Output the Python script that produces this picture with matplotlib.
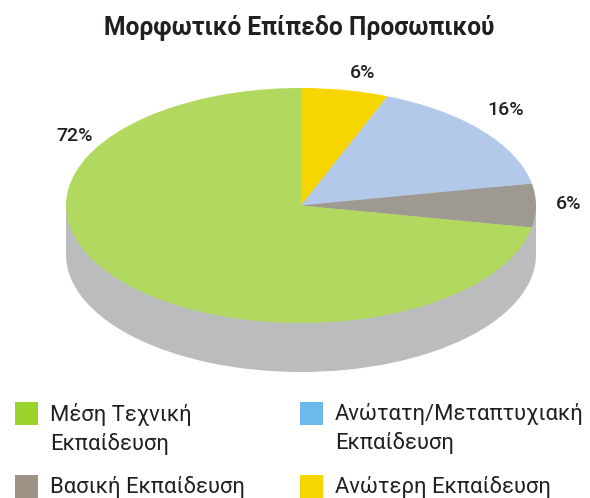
# -*- coding: utf-8 -*-
import matplotlib
matplotlib.use("Agg")
import matplotlib.pyplot as plt
from matplotlib.patches import Rectangle

plt.rcParams['font.family'] = ['Roboto', 'DejaVu Sans']

# data, clockwise from the top
values = [6, 16, 6, 72]
pie_colors = ['#F6D500', '#B3C9E9', '#9E9A92', '#B2D95F']
pie_labels = ['6%', '16%', '6%', '72%']
label_pos = [(363, 73), (506, 110), (569, 204), (75, 136)]

title = 'Μορφωτικό Επίπεδο Προσωπικού'
legend_labels = ['Μέση Τεχνική\nΕκπαίδευση', 'Ανώτατη/Μεταπτυχιακή\nΕκπαίδευση',
                 'Βασική Εκπαίδευση', 'Ανώτερη Εκπαίδευση']
legend_colors = ['#9BD32D', '#6CB9EC', '#9F9284', '#F6D500']
legend_pos = [(15, 402), (300, 402), (15, 475), (300, 475)]

W, H = 590, 498
CX, CY, RX, RY, DEPTH = 301, 205.5, 235, 117.5, 49
SIDE = '#BBBCBE'
TEXT = '#231F20'

fig = plt.figure(figsize=(W / 100, H / 100), dpi=100)

# pie axes, squashed so the circle becomes the ellipse
ax = fig.add_axes([0, 0, 1, 1])
d = DEPTH / RY
ax.pie([1], colors=[SIDE], center=(0, -d), radius=1)
ax.add_patch(Rectangle((-1, -d), 2, d, color=SIDE, lw=0))
ax.pie(values, colors=pie_colors, startangle=90, counterclock=False, radius=1,
       wedgeprops={'linewidth': 0})
ax.set_aspect('auto')
ax.set_xlim(-CX / RX, (W - CX) / RX)
ax.set_ylim(-(H - CY) / RY, CY / RY)
ax.axis('off')

# overlay in pixel coordinates for the texts and legend
ov = fig.add_axes([0, 0, 1, 1])
ov.set_xlim(0, W)
ov.set_ylim(H, 0)
ov.axis('off')

ov.text(299, 27, title, ha='center', va='center', fontsize=17.7, fontweight='bold', color=TEXT)

for lab, (x, y) in zip(pie_labels, label_pos):
    ov.text(x, y, lab, ha='center', va='center', fontsize=14, fontweight='medium', color=TEXT)

for lab, col, (x, y) in zip(legend_labels, legend_colors, legend_pos):
    ov.add_patch(Rectangle((x, y), 23, 23, color=col, lw=0))
    ov.text(x + 35, y + 1, lab, ha='left', va='top', fontsize=15.8, color=TEXT, linespacing=1.44)

plt.savefig('out.png', dpi=100)
